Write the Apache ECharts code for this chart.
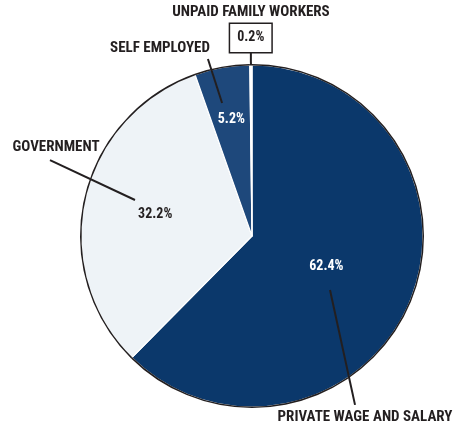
<!DOCTYPE html>
<html>
<head>
<meta charset="utf-8">
<script src="https://cdn.jsdelivr.net/npm/echarts@6/dist/echarts.min.js"></script>
<style>
  html, body { margin: 0; padding: 0; background: #ffffff; }
  #chart { width: 462px; height: 423px; }
</style>
</head>
<body>
<div id="chart"></div>
<script>
// Employment by class of worker (share of total, %)
const categories = ['PRIVATE WAGE AND SALARY', 'GOVERNMENT', 'SELF EMPLOYED', 'UNPAID FAMILY WORKERS'];
const shares = [62.4, 32.2, 5.2, 0.2];
const sliceColors = ['#0b386b', '#eef3f7', '#1e487b', '#ffffff'];
const valueLabelColors = ['#ffffff', '#231f20', '#ffffff', '#231f20'];

// Geometry of the pie (pixels)
const CX = 252, CY = 236, R = 171;
const INK = '#231f20';
const FONT = "'Roboto Condensed', 'Liberation Sans Narrow', 'Liberation Sans', sans-serif";

// Mid angle of each slice, degrees clockwise from 12 o'clock
const total = shares.reduce((a, b) => a + b, 0);
const midAngles = [];
let acc = 0;
shares.forEach(v => { midAngles.push((acc + v / 2) / total * 360); acc += v; });

function polar(angleDeg, rFrac) {
  const a = angleDeg * Math.PI / 180;
  return [CX + Math.sin(a) * R * rFrac, CY - Math.cos(a) * R * rFrac];
}
function leaderPoints(i, spec) {
  return spec.map(([dAng, rf]) => polar(midAngles[i] + dAng, rf));
}

// Value labels sit on each slice's mid angle at these radius fractions
const valueRadius = [0.47, 0.58, 0.69, 1.158];
// The tiny slice gets a boxed value joined to the rim
const valueLeader = [null, null, null, [[0, 1.076], [0, 1.0]]];

// Category label centres and leader lines ([angle offset from mid, radius fraction])
const nameAnchor = [[365, 417], [56, 147], [160, 48], [251, 12]];
const nameLeader = [
  [[36.3, 1.157], [12.4, 0.555]],
  [[8.0, 1.262], [4.5, 0.716]],
  [[-3.9, 1.067], [-2.6, 0.797]],
  null
];

const valueText = { fontFamily: FONT, fontWeight: 'bold', fontSize: 14 };
const nameText = { fontFamily: FONT, fontWeight: 'bold', fontSize: 15 };

const valueData = shares.map((v, i) => ({
  value: v,
  name: categories[i],
  itemStyle: { color: sliceColors[i] },
  label: i === 3
    ? Object.assign({}, valueText, {
        color: INK, backgroundColor: '#ffffff', borderColor: INK, borderWidth: 1.5,
        padding: [6, 7], lineHeight: 16
      })
    : Object.assign({}, valueText, { color: valueLabelColors[i] }),
  labelLine: { show: !!valueLeader[i] }
}));

const nameData = shares.map((v, i) => ({
  value: v,
  name: categories[i],
  labelLine: { show: !!nameLeader[i] }
}));

const outlineData = shares.map((v, i) => ({ value: v, name: categories[i] }));

const chart = echarts.init(document.getElementById('chart'), null, { renderer: 'canvas' });

chart.setOption({
  animation: false,
  backgroundColor: '#ffffff',
  series: [
    {
      // slices with their percentage labels
      type: 'pie',
      center: [CX, CY],
      radius: [0, R],
      startAngle: 90,
      clockwise: true,
      avoidLabelOverlap: false,
      silent: true,
      emphasis: { disabled: true },
      itemStyle: { borderColor: '#ffffff', borderWidth: 1.2 },
      label: {
        show: true,
        position: 'outside',
        formatter: p => p.value.toFixed(1) + '%'
      },
      labelLine: { lineStyle: { color: INK, width: 2 } },
      labelLayout: p => {
        const i = p.dataIndex;
        const [x, y] = polar(midAngles[i], valueRadius[i]);
        const out = { x, y, align: 'center', verticalAlign: 'middle' };
        if (valueLeader[i]) out.labelLinePoints = leaderPoints(i, valueLeader[i]);
        return out;
      },
      data: valueData,
      z: 2
    },
    {
      // dark rim around the pie
      type: 'pie',
      center: [CX, CY],
      radius: [R - 0.5, R + 1],
      startAngle: 90,
      silent: true,
      emphasis: { disabled: true },
      label: { show: false },
      labelLine: { show: false },
      itemStyle: { color: INK, borderWidth: 0 },
      data: outlineData,
      z: 3
    },
    {
      // category names with leader lines
      type: 'pie',
      center: [CX, CY],
      radius: [0, R],
      startAngle: 90,
      avoidLabelOverlap: false,
      silent: true,
      emphasis: { disabled: true },
      itemStyle: { color: 'rgba(0,0,0,0)', borderWidth: 0 },
      label: Object.assign({ show: true, position: 'outside', color: INK, formatter: '{b}' }, nameText),
      labelLine: { lineStyle: { color: INK, width: 2 } },
      labelLayout: p => {
        const i = p.dataIndex;
        const out = { x: nameAnchor[i][0], y: nameAnchor[i][1], align: 'center', verticalAlign: 'middle' };
        if (nameLeader[i]) out.labelLinePoints = leaderPoints(i, nameLeader[i]);
        return out;
      },
      data: nameData,
      z: 4
    }
  ]
});
</script>
</body>
</html>
